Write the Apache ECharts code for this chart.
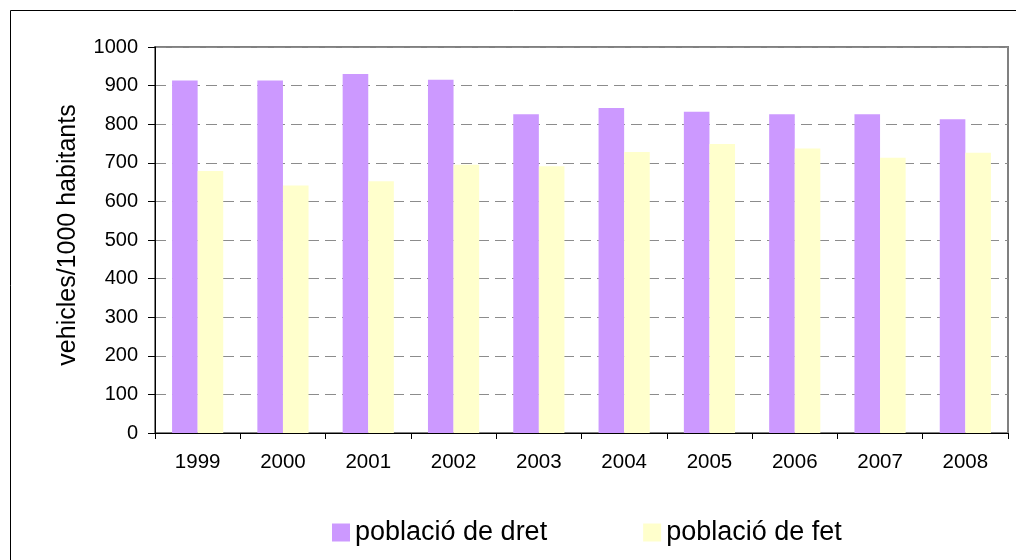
<!DOCTYPE html>
<html>
<head>
<meta charset="utf-8">
<script src="https://cdn.jsdelivr.net/npm/echarts@6/dist/echarts.min.js"></script>
<style>
  html, body { margin: 0; padding: 0; background: #fff; }
  #chart { width: 1016px; height: 560px; }
</style>
</head>
<body>
<div id="chart"></div>
<script>
const years = ['1999', '2000', '2001', '2002', '2003', '2004', '2005', '2006', '2007', '2008']
const poblacioDret = [913, 913, 930, 915, 826, 842, 832, 826, 826, 813]
const poblacioFet = [679, 641, 652, 695, 691, 728, 749, 737, 713, 726]
const seriesNames = ['població de dret', 'població de fet']

const font = "'Liberation Sans', Arial, sans-serif"

const chart = echarts.init(document.getElementById('chart'), null, { renderer: 'canvas' })

const option = {
  animation: false,
  backgroundColor: '#fff',
  textStyle: { fontFamily: font, color: '#000' },
  // outer frame of the chart area
  graphic: [{
    type: 'rect',
    shape: { x: 10.5, y: 10.5, width: 1100, height: 600 },
    style: { fill: 'none', stroke: '#000', lineWidth: 1 },
    silent: true
  }],
  grid: {
    left: 155,
    right: 8,
    top: 47,
    bottom: 127,
    show: true,
    borderColor: '#808080',
    borderWidth: 2,
    backgroundColor: 'transparent'
  },
  legend: {
    data: seriesNames,
    left: 327,
    top: 514,
    itemWidth: 18,
    itemHeight: 18,
    itemGap: 96,
    icon: 'rect',
    textStyle: { fontSize: 27, fontFamily: font, color: '#000' }
  },
  xAxis: {
    type: 'category',
    data: years,
    boundaryGap: true,
    axisLine: { lineStyle: { color: '#000', width: 1 } },
    axisTick: { show: true, length: 6, lineStyle: { color: '#000' } },
    axisLabel: { fontSize: 20.5, color: '#000', margin: 19, fontFamily: font }
  },
  yAxis: {
    type: 'value',
    min: 0,
    max: 1000,
    interval: 100,
    name: 'vehicles/1000 habitants',
    nameLocation: 'middle',
    nameGap: 74,
    nameTextStyle: { fontSize: 25, color: '#000', fontFamily: font, padding: [0, 0, 0, 10] },
    axisLine: { show: true, lineStyle: { color: '#000', width: 1 } },
    axisTick: { show: true, length: 7, lineStyle: { color: '#000' } },
    axisLabel: {
      fontSize: 20,
      color: '#000',
      margin: 17,
      fontFamily: font,
      formatter: v => String(v)
    },
    splitLine: {
      show: true,
      lineStyle: { color: '#8c8c8c', type: [11, 6], width: 1 }
    }
  },
  series: [
    {
      name: seriesNames[0],
      type: 'bar',
      data: poblacioDret,
      barGap: '0%',
      barCategoryGap: '40%',
      itemStyle: { color: '#CC99FF' }
    },
    {
      name: seriesNames[1],
      type: 'bar',
      data: poblacioFet,
      barGap: '0%',
      barCategoryGap: '40%',
      itemStyle: { color: '#FFFFCC' }
    }
  ]
}

chart.setOption(option)
</script>
</body>
</html>
